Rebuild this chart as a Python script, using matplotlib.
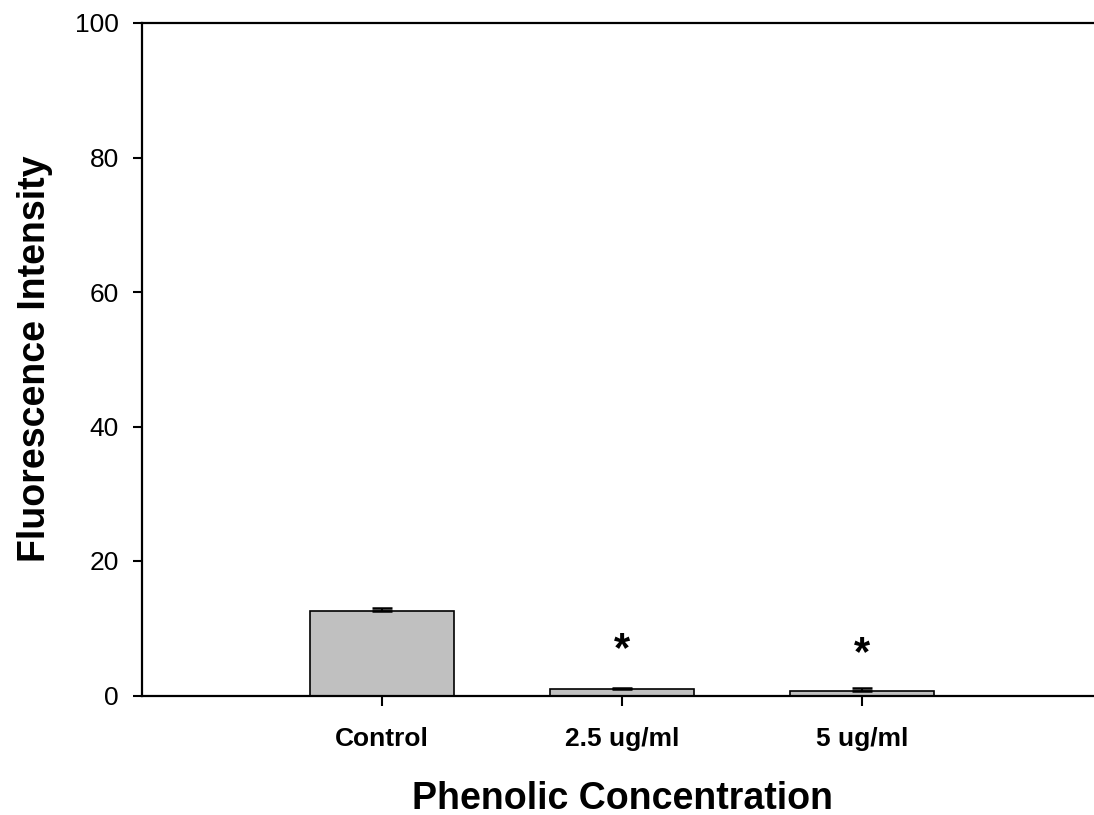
import numpy as np
import matplotlib
matplotlib.use("Agg")
import matplotlib.pyplot as plt

plt.rcParams['font.family'] = ['Liberation Sans', 'DejaVu Sans']

# datos
grupos = ["Control", "2.5 ug/ml", "5 ug/ml"]
medias = [12.5, 0.9, 0.7]
errores = [0.45, 0.15, 0.45]
# asteriscos de significancia y su altura (valor y)
asteriscos = [None, "*", "*"]
altura_asterisco = [None, 6.7, 6.2]

x = np.arange(1, len(grupos) + 1)

fig = plt.figure(figsize=(10.94, 8.15), dpi=100)
ax = fig.add_axes([142 / 1094, 119.5 / 815, (1102 - 142) / 1094, 672.5 / 815])

ax.bar(x, medias, width=0.6, color="#C0C0C0", edgecolor="black", linewidth=1.2, zorder=2)
ax.errorbar(x, medias, yerr=[np.zeros(len(errores)), errores], fmt="none",
            ecolor="black", elinewidth=1.5, capsize=7, capthick=1.8, zorder=3)

for xi, s, h in zip(x, asteriscos, altura_asterisco):
    if s:
        ax.text(xi, h, s, ha="center", va="center", fontsize=30,
                fontweight="bold", color="black")

ax.set_xlim(0, 4)
ax.set_ylim(0, 100)
ax.set_yticks([0, 20, 40, 60, 80, 100])
ax.set_xticks(x)
ax.set_xticklabels(grupos, fontweight="bold", fontsize=19)

ax.tick_params(axis="y", direction="out", length=6.5, width=1.5, labelsize=19, pad=10)
ax.tick_params(axis="x", direction="out", length=7, width=1.5, pad=16)

ax.spines["right"].set_visible(False)
for lado in ["top", "left", "bottom"]:
    ax.spines[lado].set_linewidth(1.6)

ax.set_xlabel("Phenolic Concentration", fontsize=27, fontweight="bold", labelpad=21)
ax.set_ylabel("Fluorescence Intensity", fontsize=27, fontweight="bold", labelpad=16)

fig.savefig("out.png", dpi=100)
